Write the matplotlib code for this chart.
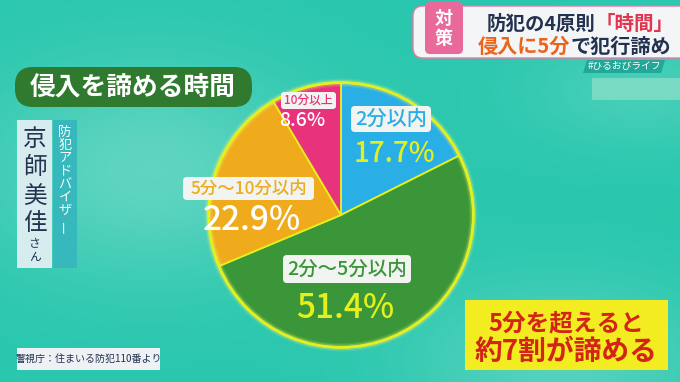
import numpy as np
import matplotlib.pyplot as plt
from matplotlib.patches import FancyBboxPatch, Rectangle, Circle, Polygon

plt.rcParams['font.family'] = ['Noto Sans CJK JP', 'DejaVu Sans']

# Data
labels = ['2分以内', '2分〜5分以内', '5分〜10分以内', '10分以上']
values = [17.7, 51.4, 22.9, 8.6]
colors = ['#2aaee6', '#3a9638', '#efab1c', '#e8337c']

title = '侵入を諦める時間'
source = '警視庁：住まいる防犯110番より'
note_lines = ['5分を超えると', '約7割が諦める']

W, H = 680, 382
fig = plt.figure(figsize=(W / 100, H / 100), dpi=100)

# background (teal with lighter cloudy patches)
bg = fig.add_axes([0, 0, 1, 1], zorder=0)
yy, xx = np.mgrid[0:H, 0:W]
light = (0.55 * np.exp(-(((xx - 150) / 170) ** 2 + ((yy - 170) / 110) ** 2))
         + 0.45 * np.exp(-(((xx - 560) / 150) ** 2 + ((yy - 360) / 80) ** 2))
         + 0.3 * np.exp(-(((xx - 640) / 120) ** 2 + ((yy - 90) / 60) ** 2)))
base = np.array([0.16, 0.78, 0.68])
top = np.array([0.55, 0.88, 0.82])
img = base + np.clip(light, 0, 1)[..., None] * (top - base)
bg.imshow(img, extent=[0, W, H, 0], aspect='auto')
bg.set_xlim(0, W)
bg.set_ylim(H, 0)
bg.axis('off')

# pie
cx, cy, r = 341, 215, 139
pax = fig.add_axes([(cx - r) / W, 1 - (cy + r) / H, 2 * r / W, 2 * r / H], zorder=1)
pax.pie(values, colors=colors, startangle=90, counterclock=False, radius=1,
        wedgeprops=dict(edgecolor='#e4f01e', linewidth=1.3))
for lw, a in [(6, 0.12), (4, 0.25)]:
    pax.add_patch(Circle((0, 0), 1.0, fill=False, edgecolor='#f0f870', linewidth=lw, alpha=a))
pax.add_patch(Circle((0, 0), 1.0, fill=False, edgecolor='#e4f01e', linewidth=2))
pax.set_xlim(-1.05, 1.05)
pax.set_ylim(-1.05, 1.05)
pax.axis('off')

# overlay in pixel coordinates
ax = fig.add_axes([0, 0, 1, 1], zorder=2)
ax.set_xlim(0, W)
ax.set_ylim(H, 0)
ax.axis('off')
ax.patch.set_alpha(0)

navy = '#22324f'


def rbox(x, y, w, h, fc, pad=4, ec='none', z=2):
    ax.add_patch(FancyBboxPatch((x, y), w, h, boxstyle=f'round,pad=0,rounding_size={pad}',
                                fc=fc, ec=ec, zorder=z))


# title
rbox(15, 67, 237, 40, '#2f7a2e', pad=18)
ax.text(133, 88, title, color='white', fontsize=18.5, fontweight='bold',
        ha='center', va='center', zorder=3)

# name plate
ax.add_patch(Rectangle((17, 120), 35, 148, fc='#d6ecee', zorder=2))
ax.add_patch(Rectangle((53, 120), 24, 148, fc='#36b8bc', zorder=2))
for ch, y in zip('京師美佳', [139, 168, 196, 224]):
    ax.text(34.5, y, ch, color=navy, fontsize=17, ha='center', va='center', zorder=3)
for ch, y in zip('さん', [244, 257]):
    ax.text(34.5, y, ch, color=navy, fontsize=8.5, ha='center', va='center', zorder=3)
for ch, y in zip('防犯アドバイザ', [132, 145, 158, 171, 184, 197, 210]):
    ax.text(65, y, ch, color='white', fontsize=9.5, ha='center', va='center', zorder=3)
ax.text(65, 226, 'ー', color='white', fontsize=9.5, ha='center', va='center',
        rotation=90, zorder=3)

# pie labels
pct = ['{:.1f}%'.format(v) for v in values]
# 2分以内
rbox(351, 106, 80, 26, '#f2f4f2', pad=4)
ax.text(391, 119, labels[0], color=colors[0], fontsize=14.5, fontweight='medium',
        ha='center', va='center', zorder=3)
ax.text(394, 153, pct[0], color='#e4f01e', fontsize=20, fontweight='medium',
        ha='center', va='center', zorder=3)
# 2分〜5分以内
rbox(283, 255, 128, 28, '#f2f4f2', pad=4)
ax.text(347, 269, labels[1], color=colors[1], fontsize=14, fontweight='medium',
        ha='center', va='center', zorder=3)
ax.text(345, 308, pct[1], color='#e4f01e', fontsize=24, fontweight='medium',
        ha='center', va='center', zorder=3)
# 5分〜10分以内
rbox(183, 177, 131, 23, '#f2f4f2', pad=4)
ax.text(248.5, 188.5, labels[2], color=colors[2], fontsize=12.5, fontweight='medium',
        ha='center', va='center', zorder=3)
ax.text(252, 220, pct[2], color='white', fontsize=24, fontweight='medium',
        ha='center', va='center', zorder=3)
# 10分以上
rbox(281, 92, 55, 17, '#f2f4f2', pad=3)
ax.text(308.5, 100.5, labels[3], color=colors[3], fontsize=8.5, fontweight='medium',
        ha='center', va='center', zorder=3)
ax.text(302, 121, pct[3], color='white', fontsize=14, fontweight='medium',
        ha='center', va='center', zorder=3)

# source
ax.add_patch(Rectangle((17, 348), 143, 22, fc='#eef2f4', zorder=2))
ax.text(88.5, 359, source, color=navy, fontsize=7.2, ha='center', va='center', zorder=3)

# note box
ax.add_patch(Rectangle((465, 300), 203, 70, fc='#f2ec20', zorder=2))
ax.text(566, 323, note_lines[0], color='#d42418', fontsize=17, fontweight='bold',
        ha='center', va='center', zorder=3)
ax.text(566, 352, note_lines[1], color='#d42418', fontsize=20, fontweight='bold',
        ha='center', va='center', zorder=3)

# header (top right)
rbox(413, 6, 290, 52, '#f4f5f6', pad=10, ec='#e87aa6')
ax.add_patch(FancyBboxPatch((425, 2), 38, 52, boxstyle='round,pad=0,rounding_size=5',
                            fc='#e9699a', ec='none', zorder=3))
ax.text(444, 18, '対', color='white', fontsize=13, fontweight='bold',
        ha='center', va='center', zorder=4)
ax.text(444, 39, '策', color='white', fontsize=13, fontweight='bold',
        ha='center', va='center', zorder=4)

t = ax.text(487, 24, '防犯の4原則', color=navy, fontsize=14, fontweight='bold',
            ha='left', va='center', zorder=4)
ax.annotate('「時間」', xy=(1, 0.5), xycoords=t, va='center', ha='left',
            color='#e2354f', fontsize=14, fontweight='bold', zorder=4)
t = ax.text(478, 46, '侵入に5分', color='#ec641a', fontsize=14.5, fontweight='bold',
            ha='left', va='center', zorder=4)
ax.annotate('で犯行諦め', xy=(1, 0.5), xycoords=t, va='center', ha='left',
            color=navy, fontsize=14.5, fontweight='bold', zorder=4)

ax.add_patch(Polygon([[587, 60], [665, 60], [661, 73], [583, 73]], closed=True,
                     fc='#22a898', ec='none', zorder=4))
ax.text(624, 66.5, '#ひるおびライフ', color='white', fontsize=7, style='italic',
        ha='center', va='center', zorder=5)
ax.add_patch(Rectangle((592, 78), 88, 22, fc='#8fe0c8', alpha=0.7, zorder=2))

fig.savefig('out.png', dpi=100)
